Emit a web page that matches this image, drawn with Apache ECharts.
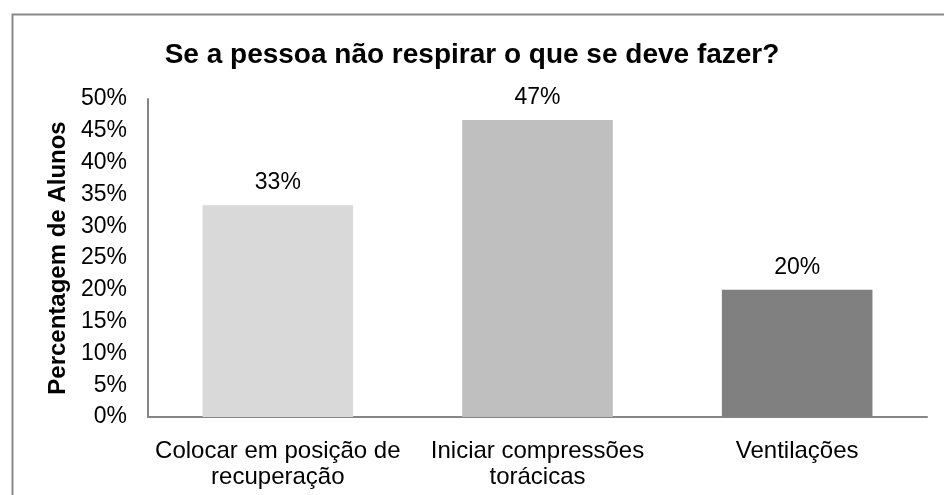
<!DOCTYPE html>
<html>
<head>
<meta charset="utf-8">
<script src="https://cdn.jsdelivr.net/npm/echarts@6/dist/echarts.min.js"></script>
<style>
html,body{margin:0;padding:0;background:#fff;}
#chart{width:944px;height:495px;}
</style>
</head>
<body>
<div id="chart"></div>
<script>
const titleText = 'Se a pessoa não respirar o que se deve fazer?';
const yAxisName = 'Percentagem de Alunos';
const categories = ['Colocar em posição de\nrecuperação', 'Iniciar compressões\ntorácicas', 'Ventilações'];
const values = [33.3, 46.7, 20];
const barColors = ['#d9d9d9', '#bfbfbf', '#808080'];
const yMin = 0, yMax = 50, yStep = 5;

const font = 'Liberation Sans, Arial, sans-serif';
const chart = echarts.init(document.getElementById('chart'), null, {renderer: 'canvas'});
chart.setOption({
  animation: false,
  backgroundColor: '#fff',
  graphic: [{
    type: 'rect', left: 10, top: 12, z: -1,
    shape: {width: 960, height: 520},
    style: {fill: 'none', stroke: '#898989', lineWidth: 2}
  }],
  title: {
    text: titleText, left: 'center', top: 36,
    textStyle: {fontFamily: font, fontSize: 28, fontWeight: 'bold', color: '#000'}
  },
  grid: {left: 148, right: 17, top: 99, bottom: 78, containLabel: false},
  xAxis: {
    type: 'category', data: categories,
    axisLine: {lineStyle: {color: '#868686', width: 2}},
    axisTick: {show: false},
    axisLabel: {fontFamily: font, fontSize: 24, color: '#000', margin: 21, lineHeight: 26, interval: 0}
  },
  yAxis: {
    type: 'value', min: yMin, max: yMax, interval: yStep,
    name: yAxisName, nameLocation: 'middle', nameGap: 77,
    nameTextStyle: {fontFamily: font, fontSize: 24, fontWeight: 'bold', color: '#000'},
    axisLine: {show: true, lineStyle: {color: '#868686', width: 2}},
    axisTick: {show: false},
    splitLine: {show: false},
    axisLabel: {fontFamily: font, fontSize: 23, color: '#000', margin: 21, formatter: v => v + '%'}
  },
  series: [{
    type: 'bar', barCategoryGap: '42%',
    data: values.map((v, i) => ({value: v, itemStyle: {color: barColors[i]}})),
    label: {show: true, position: 'top', distance: 11, fontFamily: font, fontSize: 23, color: '#000', formatter: p => Math.round(p.value) + '%'}
  }]
});
</script>
</body>
</html>
